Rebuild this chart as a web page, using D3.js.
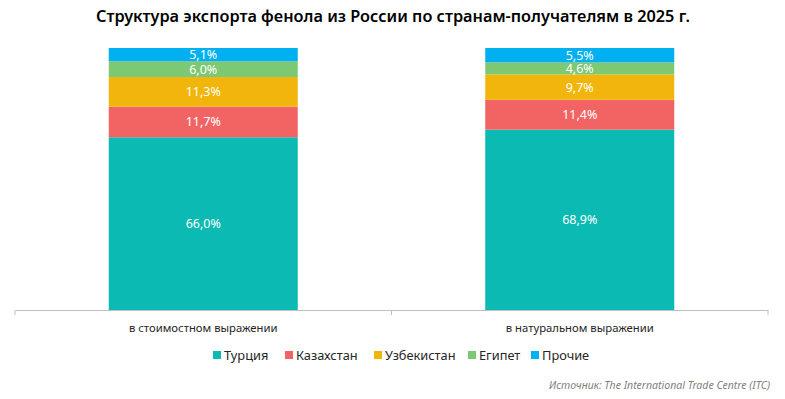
<!DOCTYPE html>
<html>
<head>
<meta charset="utf-8">
<script src="https://cdn.jsdelivr.net/npm/d3@7"></script>
<style>
  body { margin: 0; background: #fff; }
  text { font-family: "Noto Sans", "Open Sans", sans-serif; }
</style>
</head>
<body>
<svg id="chart" width="785" height="399"></svg>
<script>
// data
const categories = ["в стоимостном выражении", "в натуральном выражении"];
const countries = ["Турция", "Казахстан", "Узбекистан", "Египет", "Прочие"];
const turkey = [66.0, 68.9];
const kazakhstan = [11.7, 11.4];
const uzbekistan = [11.3, 9.7];
const egypt = [6.0, 4.6];
const other = [5.1, 5.5];
const colors = ["#0bbab3", "#f26464", "#f2b50c", "#7dc873", "#00b0f0"];

const svg = d3.select("#chart");

const rows = categories.map((c, i) => ({
    cat: c,
    "Турция": turkey[i],
    "Казахстан": kazakhstan[i],
    "Узбекистан": uzbekistan[i],
    "Египет": egypt[i],
    "Прочие": other[i]
}));

const stack = d3.stack().keys(countries)(rows);

const x = d3.scaleBand()
    .domain(categories)
    .range([15, 768]);

const barW = 189;

const y = d3.scaleLinear()
    .domain([0, 100.1])
    .range([310, 48]);

const color = d3.scaleOrdinal().domain(countries).range(colors);

// title
svg.append("text")
    .attr("x", 393)
    .attr("y", 22)
    .attr("text-anchor", "middle")
    .attr("font-size", 16.3)
    .attr("font-weight", 600)
    .attr("fill", "#000")
    .text("Структура экспорта фенола из России по странам-получателям в 2025 г.");

// bars
const groups = svg.selectAll("g.layer")
    .data(stack)
    .join("g")
    .attr("class", "layer")
    .attr("fill", d => color(d.key));

groups.selectAll("rect")
    .data(d => d)
    .join("rect")
    .attr("x", d => x(d.data.cat) + (x.bandwidth() - barW) / 2)
    .attr("width", barW)
    .attr("y", d => y(d[1]))
    .attr("height", d => y(d[0]) - y(d[1]));

// value labels
groups.selectAll("text")
    .data(d => d.map(v => ({v, key: d.key})))
    .join("text")
    .attr("x", d => x(d.v.data.cat) + x.bandwidth() / 2)
    .attr("y", d => (y(d.v[0]) + y(d.v[1])) / 2 + 4.5)
    .attr("text-anchor", "middle")
    .attr("font-size", 12.5)
    .attr("fill", "#fff")
    .text(d => d3.format(".1f")(d.v.data[d.key]).replace(".", ",") + "%");

// x axis
const axis = svg.append("g")
    .attr("transform", "translate(0,310)")
    .call(d3.axisBottom(x).tickSize(0).tickFormat(""));
axis.select(".domain").attr("stroke", "#bfbfbf");
axis.selectAll(".tick").remove();

const bounds = [15, x(categories[1]), 768];
svg.selectAll("line.tick")
    .data(bounds)
    .join("line")
    .attr("x1", d => d).attr("x2", d => d)
    .attr("y1", 310).attr("y2", 315)
    .attr("stroke", "#bfbfbf");

svg.selectAll("text.cat")
    .data(categories)
    .join("text")
    .attr("class", "cat")
    .attr("x", d => x(d) + x.bandwidth() / 2)
    .attr("y", 332)
    .attr("text-anchor", "middle")
    .attr("font-size", 11.3)
    .attr("fill", "#262626")
    .text(d => d);

// legend
const legend = svg.append("g").attr("transform", "translate(0,357)");
const legX = [213, 285, 374, 468, 531];
countries.forEach((c, i) => {
    legend.append("rect")
        .attr("x", legX[i])
        .attr("y", -6)
        .attr("width", 8)
        .attr("height", 8)
        .attr("fill", colors[i]);
    legend.append("text")
        .attr("x", legX[i] + 11)
        .attr("y", 2)
        .attr("dy", "0.1em")
        .attr("font-size", 12.8)
        .attr("fill", "#262626")
        .text(c);
});

// source
svg.append("text")
    .attr("x", 770)
    .attr("y", 389)
    .attr("text-anchor", "end")
    .attr("font-size", 10.5)
    .attr("font-style", "italic")
    .attr("fill", "#7f7f7f")
    .text("Источник: The International Trade Centre (ITC)");
</script>
</body>
</html>
